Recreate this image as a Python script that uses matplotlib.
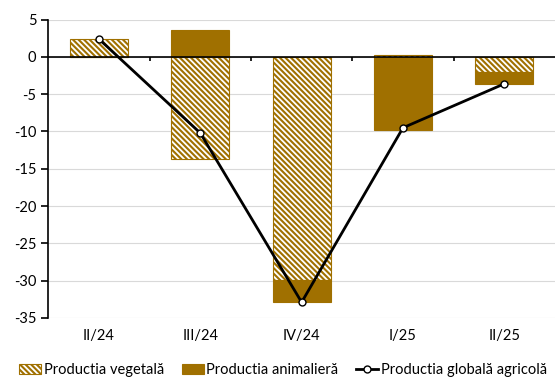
import numpy as np
import matplotlib.pyplot as plt

plt.rcParams['font.family'] = ['Lato', 'DejaVu Sans']
plt.rcParams['hatch.linewidth'] = 1.5
plt.rcParams['axes.unicode_minus'] = False

quarters = ["II/24", "III/24", "IV/24", "I/25", "II/25"]
vegetala = [2.4, -13.7, -29.9, 0.2, -2.0]
animala = [0.0, 3.6, -3.0, -9.8, -1.6]
globala = [2.4, -10.2, -32.9, -9.5, -3.6]

brown = "#a07000"
x = np.arange(len(quarters))
veg = np.array(vegetala)
ani = np.array(animala)

# stack positives and negatives separately (Excel style)
ani_bottom = np.where(np.sign(ani) == np.sign(veg), veg, 0)

fig = plt.figure(figsize=(5.55, 3.78), dpi=100)
ax = fig.add_axes([0.087, 0.159, 0.913, 0.789])

ax.bar(x, veg, width=0.57, color="white", edgecolor=brown, hatch="\\" * 6,
       linewidth=0.8, label="Productia vegetală", zorder=2)
ax.bar(x, ani, width=0.57, bottom=ani_bottom, color=brown, edgecolor=brown,
       linewidth=0.8, label="Productia animalieră", zorder=2)
ax.plot(x, globala, color="black", lw=2, marker="o", ms=5, mfc="white",
        mec="black", mew=1, label="Productia globală agricolă", zorder=4)

ax.axhline(0, color="black", lw=1.2, zorder=3)
ax.vlines(x[:-1] + 0.5, -0.55, 0, color="black", lw=1.2, zorder=3)

ax.set_xlim(-0.5, 4.5)
ax.set_ylim(-35, 5)
ax.set_yticks(range(-35, 6, 5))
ax.set_xticks(x)
ax.set_xticklabels(quarters)
ax.yaxis.grid(True, color="#d9d9d9", lw=0.8)
ax.set_axisbelow(True)
for s in ["top", "right", "bottom"]:
    ax.spines[s].set_visible(False)
ax.spines["left"].set_linewidth(1.2)
ax.tick_params(axis="x", length=0, pad=8, labelsize=10.5)
ax.tick_params(axis="y", length=5, width=1.2, labelsize=10.5)

h, l = ax.get_legend_handles_labels()
order = [1, 2, 0]
fig.legend([h[i] for i in order], [l[i] for i in order], loc="center",
           bbox_to_anchor=(0.51, 0.02), ncol=3, frameon=False, fontsize=10.5,
           handlelength=1.5, handletextpad=0.2, columnspacing=1.2,
           borderaxespad=0, borderpad=0)

fig.savefig("out.png")
